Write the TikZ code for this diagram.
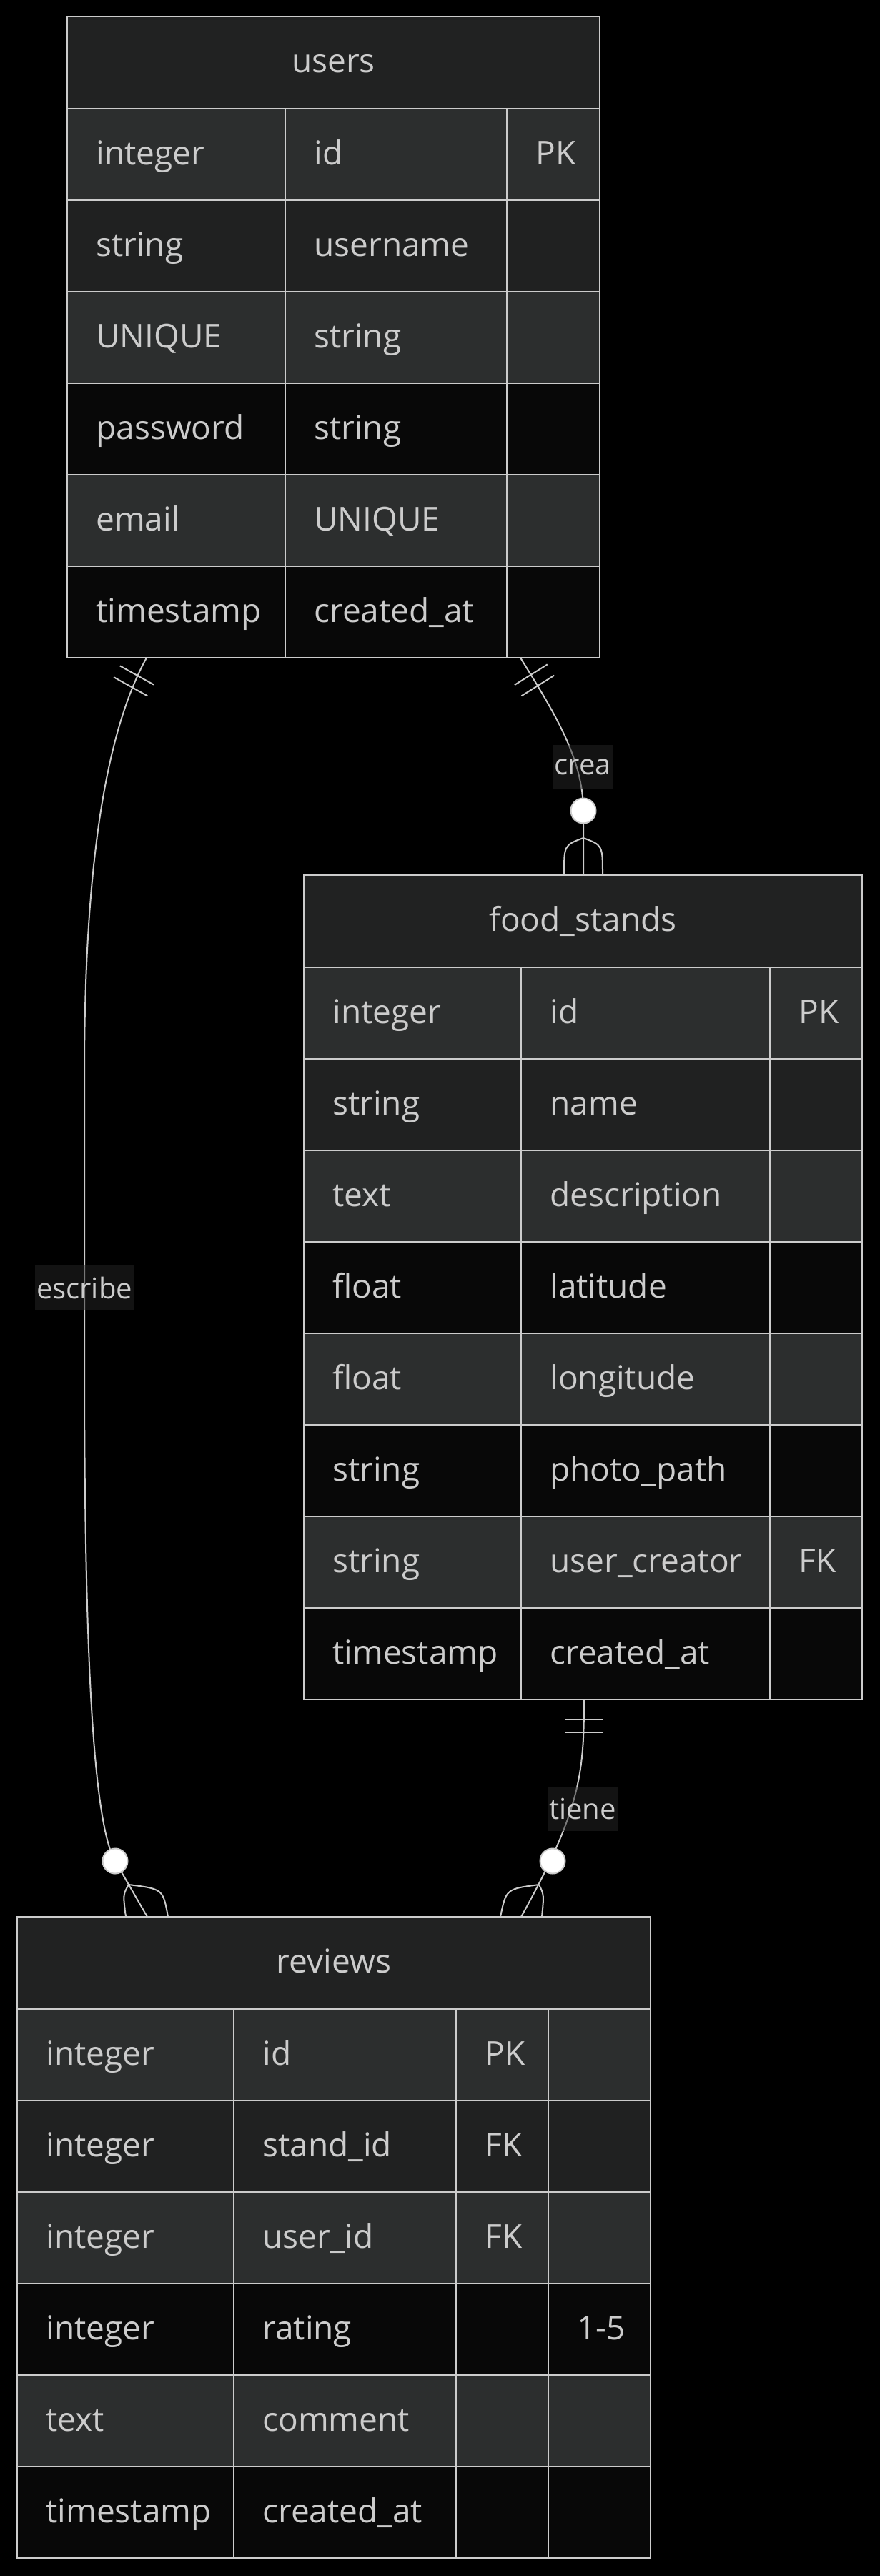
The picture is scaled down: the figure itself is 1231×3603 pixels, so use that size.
\documentclass[tikz,border=0pt]{standalone}
\usepackage{fontspec}
\setmainfont{Open Sans}
\usetikzlibrary{fit,calc}
\definecolor{hdr}{HTML}{212222}
\definecolor{rowA}{HTML}{2C2E2E}
\definecolor{rowB}{HTML}{202121}
\definecolor{rowC}{HTML}{080808}
\definecolor{ink}{HTML}{CCCCCC}
\definecolor{lblbg}{HTML}{262626}
\newcommand\celf{\fontsize{23pt}{27pt}\selectfont}
\newcommand\lblf{\fontsize{20pt}{24pt}\selectfont}
\newcommand\setcols[5]{\def\cA{#1}\def\cB{#2}\def\cC{#3}\def\cD{#4}\def\cE{#5}}
\newcommand\erhead[3]{%
  \fill[hdr] (\cA,#2) rectangle (\cE,#2+129);
  \node[hdrtext] (#1) at ({(\cA+\cE)/2},#2+78.5) {#3};}
\newcommand\errow[7]{%
  \fill[#3] (\cA,#2) rectangle (\cE,#2+128);
  \node[celltext] (#1-t) at (\cA+40,#2+78) {#4};
  \node[celltext] (#1-n) at (\cB+40,#2+78) {#5};
  \if\relax\detokenize{#6}\relax\else\node[celltext] (#1-k) at (\cC+40,#2+78) {#6};\fi
  \if\relax\detokenize{#7}\relax\else\node[celltext] (#1-c) at (\cD+40,#2+78) {#7};\fi}
\newcommand\ergrid[4]{%
  \pgfmathsetmacro\erhb{#2+129}%
  \pgfmathsetmacro\erbt{#2+129+#3*128}%
  \foreach \j in {0,...,#3}{\draw[gridln] (\cA,\erhb+\j*128) -- (\cE,\erhb+\j*128);}%
  \foreach \xx in {#4}{\draw[gridln] (\xx,\erhb) -- (\xx,\erbt);}%
  \draw[frameln] (\cA,#2) rectangle (\cE,\erbt);%
  \node[inner sep=0pt,outer sep=0pt,fit={(\cA,#2) (\cE,\erbt)}] (#1) {};}
\begin{document}
\begin{tikzpicture}[x=0.5pt,y=-0.5pt,
  celltext/.style={anchor=base west,inner sep=0pt,text=ink,font=\celf},
  hdrtext/.style={anchor=base,inner sep=0pt,text=ink,font=\celf},
  gridln/.style={draw=ink,line width=1pt},
  frameln/.style={draw=ink,line width=1.4pt},
  conn/.style={draw=ink,line width=1pt},
  zerocirc/.style={fill=white,draw=ink,line width=1pt},
  elabel/.style={fill=lblbg,fill opacity=0.5,text opacity=1,text=ink,font=\lblf,
    inner xsep=1pt,inner ysep=0pt,minimum height=31pt}]
\path[use as bounding box,fill=black] (0,0) rectangle (1231,3603);

% ---------- users ----------
\setcols{94}{399}{709}{839}{839}
\erhead{users-title}{23}{users}
\errow{u1}{152}{rowA}{integer}{id}{PK}{}
\errow{u2}{280}{rowB}{string}{username}{}{}
\errow{u3}{408}{rowA}{UNIQUE}{string}{}{}
\errow{u4}{536}{rowC}{password}{string}{}{}
\errow{u5}{664}{rowA}{email}{UNIQUE}{}{}
\errow{u6}{792}{rowC}{timestamp}{created\_at}{}{}
\ergrid{users}{23}{6}{399,709}

% ---------- food_stands ----------
\setcols{425}{729}{1077}{1206}{1206}
\erhead{food-title}{1224}{food\_stands}
\errow{f1}{1353}{rowA}{integer}{id}{PK}{}
\errow{f2}{1481}{rowB}{string}{name}{}{}
\errow{f3}{1609}{rowA}{text}{description}{}{}
\errow{f4}{1737}{rowC}{float}{latitude}{}{}
\errow{f5}{1865}{rowA}{float}{longitude}{}{}
\errow{f6}{1993}{rowC}{string}{photo\_path}{}{}
\errow{f7}{2121}{rowA}{string}{user\_creator}{FK}{}
\errow{f8}{2249}{rowC}{timestamp}{created\_at}{}{}
\ergrid{food}{1224}{8}{729,1077}

% ---------- reviews ----------
\setcols{24}{327}{638}{767}{910}
\erhead{rev-title}{2681}{reviews}
\errow{r1}{2810}{rowA}{integer}{id}{PK}{}
\errow{r2}{2938}{rowB}{integer}{stand\_id}{FK}{}
\errow{r3}{3066}{rowA}{integer}{user\_id}{FK}{}
\errow{r4}{3194}{rowC}{integer}{rating}{}{1-5}
\errow{r5}{3322}{rowA}{text}{comment}{}{}
\errow{r6}{3450}{rowC}{timestamp}{created\_at}{}{}
\ergrid{reviews}{2681}{6}{327,638,767}

% ---------- connector end points ----------
\coordinate (e1s) at ($(users.south west)+(111,0)$);
\coordinate (e1e) at ($(reviews.north west)+(182,0)$);
\coordinate (e2s) at ($(users.south west)+(634,0)$);
\coordinate (e2e) at ($(food.north west)+(391,0)$);
\coordinate (e3s) at ($(food.south west)+(392,0)$);
\coordinate (e3e) at ($(reviews.north west)+(705,0)$);

% ---------- escribe: users -> reviews ----------
\draw[conn] (e1s) .. controls (150,1020) and (118,1200) .. (118,1500)
  -- (118,1900) .. controls (118,2250) and (126.2,2543) .. (161,2603) -- (e1e);
\begin{scope}[shift={(e1s)}]
  \draw[conn] (-37.2,11.4) -- (10,37.6);
  \draw[conn] (-46,27.1) -- (1.2,53.3);
\end{scope}
\begin{scope}[shift={(e1e)}]
  \draw[conn] (-26,-45) .. controls (-34,-31) .. (-30,0);
  \draw[conn] (-26,-45) .. controls (22,-39) .. (29,0);
  \draw[zerocirc] (-45,-78) circle[radius=8.75pt];
\end{scope}

% ---------- crea: users -> food_stands ----------
\draw[conn] (e2s) .. controls (773,993) and (816,1060) .. (816,1134) -- (e2e);
\begin{scope}[shift={(e2s)}]
  \draw[conn] (-8.1,38) -- (37.7,9.4);
  \draw[conn] (1.5,53.3) -- (47.3,24.7);
\end{scope}
\begin{scope}[shift={(e2e)}]
  \draw[conn] (0,-52) .. controls (-27,-42) .. (-27,0);
  \draw[conn] (0,-52) .. controls (27,-42) .. (27,0);
  \draw[zerocirc] (0,-90) circle[radius=8.75pt];
\end{scope}

% ---------- tiene: food_stands -> reviews ----------
\draw[conn] (e3s) .. controls (817,2480) and (812.4,2531) .. (e3e);
\begin{scope}[shift={(e3s)}]
  \draw[conn] (-27,28) -- (27,28);
  \draw[conn] (-27,46) -- (27,46);
\end{scope}
\begin{scope}[shift={(e3e)}]
  \draw[conn] (25,-45) .. controls (-21,-39) .. (-29,0);
  \draw[conn] (25,-45) .. controls (32,-31) .. (29,0);
  \draw[zerocirc] (44,-78) circle[radius=8.75pt];
\end{scope}

% ---------- labels ----------
\node[elabel] (lbl-escribe) at (118,1801) {escribe};
\node[elabel] (lbl-crea) at (815.5,1073) {crea};
\node[elabel] (lbl-tiene) at (815,2530) {tiene};
\end{tikzpicture}
\end{document}
